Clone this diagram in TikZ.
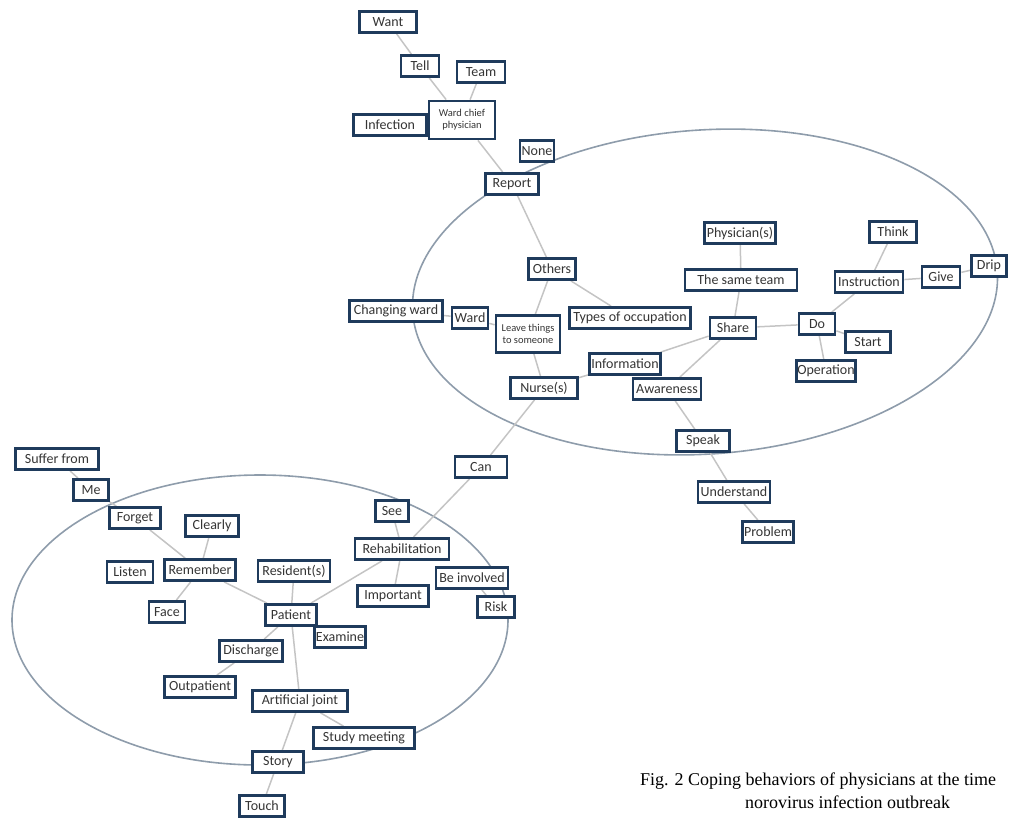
\documentclass[tikz,border=0pt]{standalone}
\usepackage{fontspec}
\setmainfont{Carlito}
\newfontfamily\capfont{Liberation Serif}
\usetikzlibrary{backgrounds}
\definecolor{boxc}{HTML}{1F3B5C}
\definecolor{edgec}{HTML}{C4C4C4}
\definecolor{ellc}{HTML}{8E9CAB}
\definecolor{txtc}{HTML}{353535}
\tikzset{
  box/.style={draw=boxc, line width=2.8pt, fill=white, text=txtc, inner xsep=1pt, inner ysep=1pt,
    minimum height=21pt, font=\fontsize{14}{15}\selectfont},
  boxtwo/.style={box, align=center, font=\fontsize{10.5}{12}\selectfont},
  link/.style={draw=edgec, line width=1.5pt},
  ell/.style={draw=ellc, line width=1.6pt},
  captext/.style={anchor=base west, inner sep=0pt, font=\capfont\fontsize{18}{21}\selectfont}
}
\begin{document}
\begin{tikzpicture}[x=1pt,y=-1pt]
\useasboundingbox (0,0) rectangle (1011,820);
% upper cluster
\node[box, minimum width=57] (want) at (388,22) {Want};
\node[box, minimum width=38] (tell) at (420,66) {Tell};
\node[box, minimum width=48] (team) at (481,72) {Team};
\node[boxtwo, minimum width=66, minimum height=38] (wcp) at (462,120) {Ward chief\\physician};
\node[box, minimum width=73] (infection) at (390,125) {Infection};
\node[box, minimum width=34] (none) at (537,151) {None};
\node[box, minimum width=53] (report) at (512,184) {Report};
\node[box, minimum width=47] (others) at (552,269) {Others};
\node[box, minimum width=71] (physicians) at (740,233) {Physician(s)};
\node[box, minimum width=112] (sameteam) at (741,280) {The same team};
\node[box, minimum width=47] (think) at (893,232) {Think};
\node[box, minimum width=68] (instruction) at (869,282) {Instruction};
\node[box, minimum width=38] (give) at (941,277) {Give};
\node[box, minimum width=35] (drip) at (989,266) {Drip};
\node[box, minimum width=93] (changing) at (396,311) {Changing ward};
\node[box, minimum width=36] (ward) at (470,318) {Ward};
\node[boxtwo, minimum width=64, minimum height=37] (leave) at (528,334) {Leave things\\to someone};
\node[box, minimum width=121] (types) at (630,318) {Types of occupation};
\node[box, minimum width=46] (share) at (733,328) {Share};
\node[box, minimum width=36] (do) at (817,324) {Do};
\node[box, minimum width=45] (start) at (868,342) {Start};
\node[box, minimum width=59] (operation) at (826,371) {Operation};
\node[box, minimum width=71] (information) at (625,364) {Information};
\node[box, minimum width=67] (nurses) at (544,388) {Nurse(s)};
\node[box, minimum width=68] (awareness) at (667,389) {Awareness};
\node[box, minimum width=53] (speak) at (703,441) {Speak};
\node[box, minimum width=72] (understand) at (734,492) {Understand};
\node[box, minimum width=51] (problem) at (768,532) {Problem};
\node[box, minimum width=52] (can) at (481,467) {Can};
% lower cluster
\node[box, minimum width=83] (suffer) at (57,459) {Suffer from};
\node[box, minimum width=35] (me) at (91,490) {Me};
\node[box, minimum width=51] (forget) at (135,518) {Forget};
\node[box, minimum width=53] (clearly) at (212,526) {Clearly};
\node[box, minimum width=46] (listen) at (130,572) {Listen};
\node[box, minimum width=71] (remember) at (200,570) {Remember};
\node[box, minimum width=36] (face) at (167,612) {Face};
\node[box, minimum width=33] (see) at (392,511) {See};
\node[box, minimum width=94] (rehab) at (402,549) {Rehabilitation};
\node[box, minimum width=72] (resident) at (294,571) {Resident(s)};
\node[box, minimum width=71] (important) at (393,596) {Important};
\node[box, minimum width=72] (involved) at (472,578) {Be involved};
\node[box, minimum width=37] (risk) at (496,607) {Risk};
\node[box, minimum width=51] (patient) at (291,615) {Patient};
\node[box, minimum width=51] (examine) at (340,637) {Examine};
\node[box, minimum width=63] (discharge) at (251,651) {Discharge};
\node[box, minimum width=71] (outpatient) at (200,687) {Outpatient};
\node[box, minimum width=95] (joint) at (300,701) {Artificial joint};
\node[box, minimum width=101] (study) at (364,738) {Study meeting};
\node[box, minimum width=51] (story) at (278,762) {Story};
\node[box, minimum width=45] (touch) at (262,806) {Touch};
% caption
\node[captext] (cap1) at (640,785) {Fig. 2 Coping behaviors of physicians at the time};
\node[captext] (cap2) at (745,808) {norovirus infection outbreak};
\begin{pgfonlayer}{background}
\draw[ell, rotate around={4:(705,292)}] (705,292) ellipse (293 and 162);
\draw[ell] (260,620) ellipse (248 and 145);
\draw[link] (want) -- (tell);
\draw[link] (tell) -- (wcp);
\draw[link] (team) -- (wcp);
\draw[link] (infection) -- (wcp);
\draw[link] (wcp) -- (report);
\draw[link] (report) -- (others);
\draw[link] (others) -- (leave);
\draw[link] (others) -- (types);
\draw[link] (changing) -- (ward);
\draw[link] (ward) -- (leave);
\draw[link] (leave) -- (nurses);
\draw[link] (nurses) -- (information);
\draw[link] (information) -- (share);
\draw[link] (share) -- (awareness);
\draw[link] (share) -- (sameteam);
\draw[link] (sameteam) -- (physicians);
\draw[link] (share) -- (do);
\draw[link] (do) -- (instruction);
\draw[link] (instruction) -- (think);
\draw[link] (instruction) -- (give);
\draw[link] (give) -- (drip);
\draw[link] (do) -- (operation);
\draw[link] (do) -- (start);
\draw[link] (awareness) -- (speak);
\draw[link] (speak) -- (understand);
\draw[link] (understand) -- (problem);
\draw[link] (nurses) -- (can);
\draw[link] (can) -- (rehab);
\draw[link] (see) -- (rehab);
\draw[link] (rehab) -- (important);
\draw[link] (rehab) -- (patient);
\draw[link] (involved) -- (risk);
\draw[link] (suffer) -- (me);
\draw[link] (me) -- (forget);
\draw[link] (forget) -- (remember);
\draw[link] (clearly) -- (remember);
\draw[link] (remember) -- (face);
\draw[link] (remember) -- (patient);
\draw[link] (resident) -- (patient);
\draw[link] (patient) -- (joint);
\draw[link] (patient) -- (discharge);
\draw[link] (discharge) -- (outpatient);
\draw[link] (joint) -- (study);
\draw[link] (joint) -- (story);
\draw[link] (story) -- (touch);
\end{pgfonlayer}
\end{tikzpicture}
\end{document}
